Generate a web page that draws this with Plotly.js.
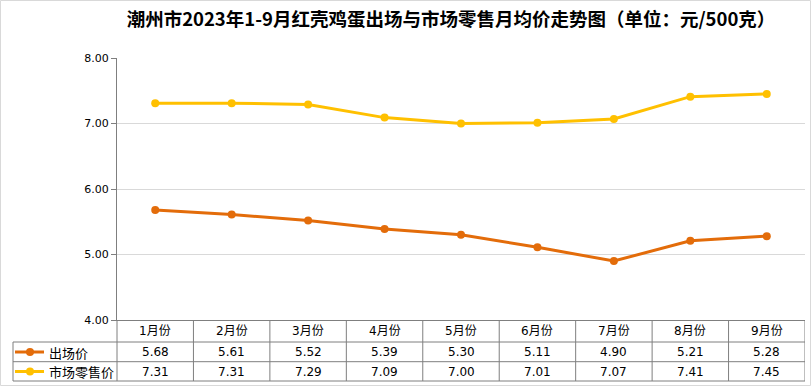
<!DOCTYPE html>
<html><head><meta charset="utf-8">
<script src="https://cdn.plot.ly/plotly-3.0.1.min.js"></script>
<style>html,body{margin:0;padding:0;background:#fff;}#chart{width:811px;height:386px;}</style>
</head><body><div id="chart"></div>
<script>
const months = ['1月份','2月份','3月份','4月份','5月份','6月份','7月份','8月份','9月份'];
const farmPrice = [5.68, 5.61, 5.52, 5.39, 5.30, 5.11, 4.90, 5.21, 5.28];
const retailPrice = [7.31, 7.31, 7.29, 7.09, 7.00, 7.01, 7.07, 7.41, 7.45];
const seriesNames = ['出场价', '市场零售价'];
const seriesColors = ['#E36C0A', '#FFC000'];
const yTicks = [4, 5, 6, 7, 8];

const W = 811, H = 386;
const L = 117, R = 6, T = 58, B = 66;
const pw = W - L - R, ph = H - T - B;
const px = v => (v - L) / pw;            // pixel x -> paper
const py = v => (H - B - v) / ph;        // pixel y -> paper

const series = [farmPrice, retailPrice];
const traces = series.map((vals, i) => ({
  type: 'scatter', mode: 'lines+markers', name: seriesNames[i],
  x: months, y: vals,
  line: {color: seriesColors[i], width: 3},
  marker: {color: seriesColors[i], size: 8},
  showlegend: false, hoverinfo: 'skip'
}));

const grid = '#7f7f7f';
const shapes = [];
const annotations = [];
// outer frame
shapes.push({type:'rect', xref:'paper', yref:'paper', x0:px(0.5), x1:px(810.5), y0:py(385.5), y1:py(0.5), line:{color:'#d9d9d9', width:1}});
// table rows
const rowLines = [342, 361.7, 381];
rowLines.forEach(yp => shapes.push({type:'line', xref:'paper', yref:'paper', x0:px(13), x1:1, y0:py(yp), y1:py(yp), line:{color:grid, width:1}}));
// left border of row-label column
shapes.push({type:'line', xref:'paper', yref:'paper', x0:px(13), x1:px(13), y0:py(342), y1:py(381), line:{color:grid, width:1}});
shapes.push({type:'line', xref:'paper', yref:'paper', x0:0, x1:0, y0:py(320), y1:py(381), line:{color:grid, width:1}});
// column boundaries
for (let i = 0; i < months.length; i++) {
  shapes.push({type:'line', xref:'x', yref:'paper', x0:i+0.5, x1:i+0.5, y0:py(320), y1:py(381), line:{color:grid, width:1}});
}
// header and values
const rowY = [331, 352, 371.5];
months.forEach((m, i) => {
  annotations.push({xref:'x', yref:'paper', x:m, y:py(rowY[0]), text:m, showarrow:false, font:{family:'DejaVu Sans, Noto Sans CJK SC', size:12, color:'#000'}, xanchor:'center', yanchor:'middle'});
  series.forEach((vals, s) => {
    annotations.push({xref:'x', yref:'paper', x:m, y:py(rowY[s+1]), text:vals[i].toFixed(2), showarrow:false, font:{family:'DejaVu Sans', size:12, color:'#000'}, xanchor:'center', yanchor:'middle'});
  });
});
// row labels with legend keys
seriesNames.forEach((n, s) => {
  const yc = rowY[s+1];
  shapes.push({type:'line', xref:'paper', yref:'paper', x0:px(15), x1:px(44), y0:py(yc), y1:py(yc), line:{color:seriesColors[s], width:3}});
  shapes.push({type:'circle', xref:'paper', yref:'paper', x0:px(26), x1:px(34), y0:py(yc+4), y1:py(yc-4), fillcolor:seriesColors[s], line:{color:seriesColors[s], width:0}});
  annotations.push({xref:'paper', yref:'paper', x:px(47), y:py(yc), text:n, showarrow:false, font:{family:'Noto Sans CJK SC', size:13, color:'#000'}, xanchor:'left', yanchor:'middle'});
});

const layout = {
  width: W, height: H,
  margin: {l: L, r: R, t: T, b: B},
  paper_bgcolor: '#fff', plot_bgcolor: '#fff',
  title: {text: '<b>潮州市2023年1-9月红壳鸡蛋出场与市场零售月均价走势图（单位：元/500克）</b>', font: {family: 'Noto Sans CJK SC', size: 18.5, color: '#000'}, x: 451/W, xref: 'container', xanchor: 'center', y: 1 - 20/H, yref: 'container', yanchor: 'middle'},
  xaxis: {type: 'category', range: [-0.5, months.length - 0.5], showticklabels: false, showgrid: false, zeroline: false, showline: true, linecolor: grid, linewidth: 1, ticks: ''},
  yaxis: {range: [4, 8], tickvals: yTicks, ticktext: yTicks.map(v => v.toFixed(2)), showgrid: true, gridcolor: '#d9d9d9', gridwidth: 1, zeroline: false, showline: true, linecolor: grid, linewidth: 1, ticks: 'outside', ticklen: 5, tickcolor: grid, tickfont: {family: 'DejaVu Sans', size: 11, color: '#000'}},
  shapes: shapes, annotations: annotations,
  showlegend: false
};
Plotly.newPlot('chart', traces, layout, {displayModeBar: false, staticPlot: true});
</script></body></html>
